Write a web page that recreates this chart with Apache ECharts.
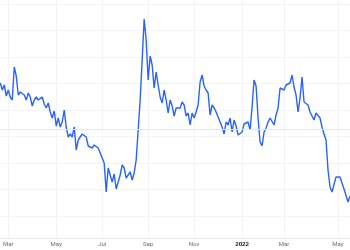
<!DOCTYPE html>
<html><head><meta charset="utf-8">
<script src="https://cdn.jsdelivr.net/npm/echarts@6/dist/echarts.min.js"></script>
<style>html,body{margin:0;padding:0;background:#fff}#c{width:350px;height:250px}</style>
</head><body><div id="c"></div>
<script>
// price series (arbitrary units, height above lowest gridline), one point per sample
const values = [133,126,131,120,126,119,116,149,140,121,124,126,121,116,123,119,110,116,119,116,
118,119,112,108,113,104,98,105,90,98,89,94,106,89,79,82,79,89,66,76,
78,82,83,79,70,71,68,71,70,68,68,58,53,24,48,41,34,42,27,26,
41,51,48,38,36,44,36,43,56,86,116,156,197,176,136,160,151,128,144,131,
119,113,126,116,103,116,110,100,108,108,108,114,111,100,103,91,103,98,104,111,
134,141,130,126,123,101,111,108,104,99,98,89,82,94,91,98,84,96,90,81,
79,84,92,93,94,86,109,136,130,98,74,70,84,88,94,98,99,91,101,108,
128,129,126,131,129,133,141,129,121,104,118,139,114,112,111,104,103,96,103,101,
98,89,82,76,46,29,24,26,39,41,39,38,27,28,14,20];
const monthLabels = ['Mar','May','Jul','Sep','Nov','2022','Mar','May'];
const monthIdx = [4,28,51,74,97,121,142,169];
const refLevel = 87;

const cats = values.map((v,i)=>{const k=monthIdx.indexOf(i);return k>=0?monthLabels[k]:'';});
const chart = echarts.init(document.getElementById('c'), null, {renderer:'canvas'});
chart.setOption({
  animation:false,
  grid:{left:0,right:0,top:4,bottom:34},
  xAxis:{
    type:'category', data:cats, boundaryGap:false, offset:22,
    axisLine:{onZero:false,lineStyle:{color:'#e6e8ee',width:1}},
    axisTick:{show:true,inside:true,length:240,interval:(i,v)=>v!=='',lineStyle:{color:'#f3f4f8',width:1}},
    axisLabel:{interval:(i,v)=>v!=='',margin:3,fontSize:6,fontFamily:'Roboto',color:'#6a6d78',
      formatter:v=>v==='2022'?'{b|2022}':v,
      rich:{b:{fontSize:6,fontWeight:'bold',color:'#131722',fontFamily:'Roboto'}}},
    splitLine:{show:false}
  },
  yAxis:{
    type:'value', min:0, max:212, interval:26.5,
    axisLine:{show:false}, axisTick:{show:false}, axisLabel:{show:false},
    splitLine:{lineStyle:{color:'#f3f4f8',width:1}}
  },
  series:[{
    type:'line', data:values, symbol:'none', smooth:false,
    lineStyle:{color:'#2962ff',width:1.4},
    markLine:{silent:true,symbol:'none',label:{show:false},
      lineStyle:{color:'#fde2bf',width:1,type:'solid'},
      data:[{yAxis:refLevel}]}
  }]
});
</script></body></html>
